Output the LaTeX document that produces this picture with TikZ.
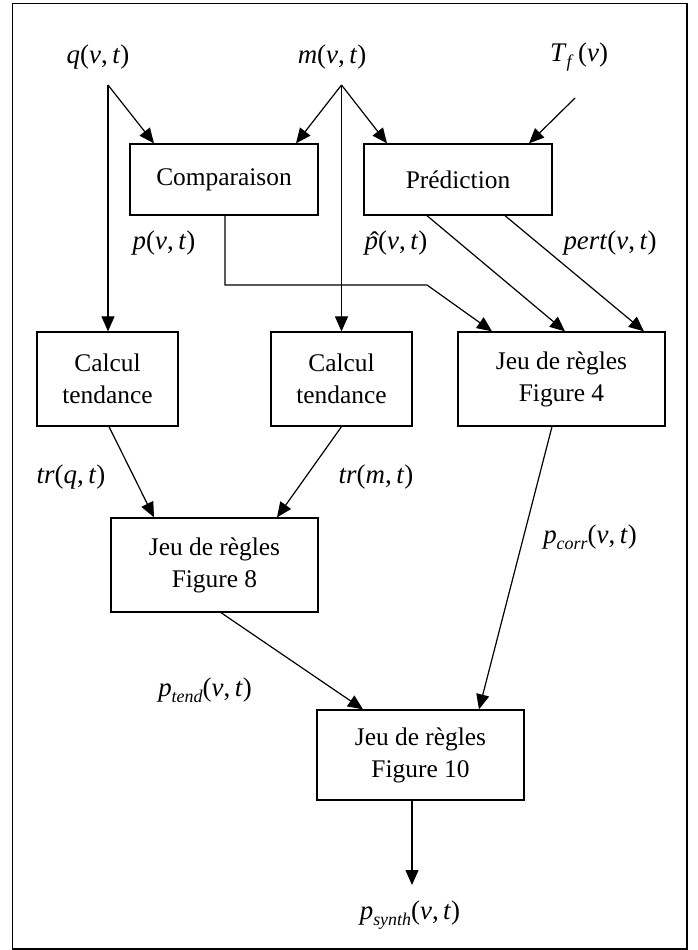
\documentclass[tikz,border=0pt]{standalone}
\usepackage{fontspec}
\setmainfont{Liberation Serif}
\usetikzlibrary{arrows.meta}
\newcommand{\vi}[1]{\textit{#1\/}}
\newcommand{\sub}[1]{\raisebox{-0.45ex}{\fontsize{18}{18}\selectfont\itshape #1\/}}
\newcommand{\phat}{\rlap{\hspace{0.2em}\raisebox{-0.1ex}{\char"02C6}}\vi{p}}
\begin{document}
\begin{tikzpicture}[x=1bp,y=-1bp,
  box/.style={draw,line width=1.3bp,inner sep=0pt,align=center,font=\fontsize{25.5}{32}\selectfont},
  lbl/.style={inner sep=0pt,font=\fontsize{27}{30}\selectfont},
  conn/.style={line width=1.2bp},
  arr/.style={conn,-{Triangle[length=15bp,width=13bp]}}]
\useasboundingbox (0,0) rectangle (698,950);
\draw[line width=1.5bp] (12.5,3.5) rectangle (687,949);
% boxes
\node[box,minimum width=188bp,minimum height=71bp] (comp) at (224,179.5) {Comparaison};
\node[box,minimum width=188bp,minimum height=71bp] (pred) at (458,179.5) {Prédiction};
\node[box,minimum width=141bp,minimum height=94bp] (calc1) at (107.5,379) {Calcul\\tendance};
\node[box,minimum width=141bp,minimum height=94bp] (calc2) at (341.5,379) {Calcul\\tendance};
\node[box,minimum width=207bp,minimum height=94bp] (jeu4) at (561.5,379) {Jeu de règles\\Figure 4};
\node[box,minimum width=207bp,minimum height=94bp] (jeu8) at (214.5,565) {Jeu de règles\\Figure 8};
\node[box,minimum width=207bp,minimum height=90bp] (jeu10) at (420.5,755) {Jeu de règles\\Figure 10};
% labels
\node[lbl] (lq) at (98,57) {\vi{q}(\vi{v},\,\vi{t})};
\node[lbl] (lm) at (332,57) {\vi{m}(\vi{v},\,\vi{t})};
\node[lbl] (lT) at (579,57) {\vi{T}\sub{f}\,(\vi{v})};
\node[lbl] (lp) at (164,243) {\vi{p}(\vi{v},\,\vi{t})};
\node[lbl] (lph) at (396,243) {\phat(\vi{v},\,\vi{t})};
\node[lbl] (lpert) at (610,243) {\vi{pert}(\vi{v},\,\vi{t})};
\node[lbl] (ltq) at (71,477) {\vi{tr}(\vi{q},\,\vi{t})};
\node[lbl] (ltm) at (376,477) {\vi{tr}(\vi{m},\,\vi{t})};
\node[lbl] (lcorr) at (590,537) {\vi{p}\sub{corr}(\vi{v},\,\vi{t})};
\node[lbl] (ltend) at (205,690) {\vi{p}\sub{tend}(\vi{v},\,\vi{t})};
\node[lbl] (lsynth) at (410,915) {\vi{p}\sub{synth}(\vi{v},\,\vi{t})};
% connector ends
\coordinate (qs) at (108,85);
\coordinate (ms) at (341.5,85);
\coordinate (Ts) at (575,98);
\coordinate (out) at (412,885);
\coordinate (bend1) at (225,285);
\coordinate (bend2) at (427,285);
% connectors
\draw[arr] (qs) -- (qs |- calc1.north);
\draw[arr] (qs) -- ([xshift=-70bp]comp.north);
\draw[arr] (ms) -- ([xshift=72bp]comp.north);
\draw[arr] (ms) -- ([xshift=-71bp]pred.north);
\draw[arr] (ms) -- (ms |- calc2.north);
\draw[arr] (Ts) -- ([xshift=71bp]pred.north);
\draw[arr] (comp.south -| bend1) -- (bend1) -- (bend2) -- ([xshift=-69.5bp]jeu4.north);
\draw[arr] ([xshift=-31bp]pred.south) -- ([xshift=3.5bp]jeu4.north);
\draw[arr] ([xshift=47bp]pred.south) -- ([xshift=82.5bp]jeu4.north);
\draw[arr] ([xshift=1.5bp]calc1.south) -- ([xshift=-60.5bp]jeu8.north);
\draw[arr] (calc2.south) -- ([xshift=62.5bp]jeu8.north);
\draw[arr] ([xshift=-9.5bp]jeu4.south) -- ([xshift=58.5bp]jeu10.north);
\draw[arr] ([xshift=6.5bp]jeu8.south) -- ([xshift=-57.5bp]jeu10.north);
\draw[arr] (jeu10.south -| out) -- (out);
\end{tikzpicture}
\end{document}
